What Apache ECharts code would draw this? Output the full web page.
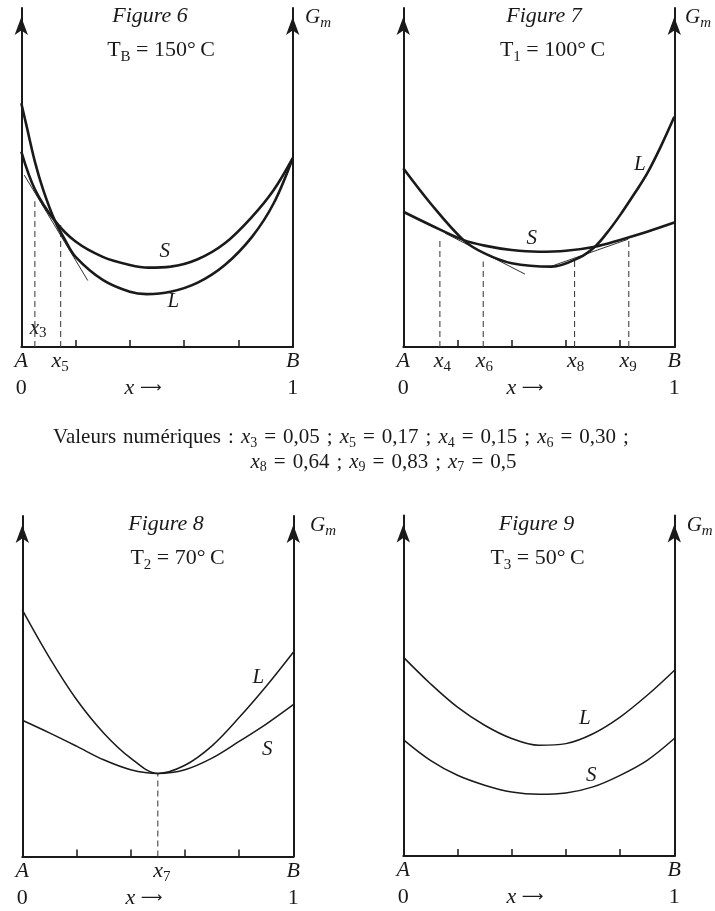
<!DOCTYPE html>
<html>
<head>
<meta charset="utf-8">
<script src="https://cdn.jsdelivr.net/npm/echarts@6.0.0/dist/echarts.min.js"></script>
<style>
html, body { margin: 0; padding: 0; background: #fff; }
#chart { width: 715px; height: 911px; }
</style>
</head>
<body>
<div id="chart"></div>
<script>
var SERIF = '"Liberation Serif", "Times New Roman", serif';
var INK = '#1a1a1a';

// ---- values (x in 0..1, G in arbitrary units 0..100 = arrow tip)

// Figure 6, TB = 150 C
var fig6LX = [0, 0.02, 0.05, 0.081, 0.124, 0.161, 0.2, 0.3, 0.4, 0.462, 0.55, 0.65, 0.75, 0.85, 0.93, 1];
var fig6L  = [71.9, 65.0, 54.7, 46.3, 37.2, 31.6, 26.6, 19.8, 16.3, 15.6, 16.3, 19.0, 24.2, 32.5, 42.4, 55.7];
var fig6SX = [0, 0.05, 0.124, 0.2, 0.3, 0.4, 0.468, 0.55, 0.65, 0.75, 0.85, 0.93, 1];
var fig6S  = [57.6, 46.5, 37.2, 31.1, 26.6, 24.2, 23.4, 23.7, 25.9, 30.6, 38.4, 46.3, 55.7];
var fig6Tangent = [[0.011, 50.7], [0.245, 19.6]];
var fig6Dash = [0.05, 0.145];
var fig6DashTop = [43, 36];

// Figure 7, T1 = 100 C
var fig7LX = [0, 0.1, 0.221, 0.3, 0.4, 0.547, 0.65, 0.707, 0.75, 0.8, 0.855, 0.9, 0.95, 1];
var fig7L  = [52.7, 42.4, 31.6, 27.6, 24.7, 23.7, 26.4, 29.6, 33.5, 38.9, 45.5, 51.2, 59.1, 67.9];
var fig7SX = [0, 0.1, 0.221, 0.3, 0.4, 0.5, 0.6, 0.707, 0.8, 0.9, 1];
var fig7S  = [39.9, 36.0, 31.6, 29.9, 28.6, 28.1, 28.4, 29.6, 31.6, 34.0, 36.7];
var fig7Tangent1 = [[0.154, 33.6], [0.449, 21.5]];
var fig7Tangent2 = [[0.535, 23.5], [0.830, 31.8]];
var fig7Dash = [0.135, 0.295, 0.632, 0.832];
var fig7DashTop = [31.6, 25.2, 26.6, 31.6];

// Figure 8, T2 = 70 C
var fig8X = [0, 0.1, 0.2, 0.3, 0.4, 0.5, 0.6, 0.7, 0.8, 0.9, 1];
var fig8L = [72.4, 58.4, 46.1, 36.3, 28.9, 24.4, 26.8, 32.5, 40.8, 50.0, 60.0];
var fig8S = [40.0, 36.3, 32.4, 28.4, 25.5, 24.4, 25.5, 28.9, 33.8, 38.9, 44.6];
var fig8Dash = [0.5];
var fig8DashTop = [24.4];

// Figure 9, T3 = 50 C
var fig9X = [0, 0.1, 0.2, 0.3, 0.4, 0.5, 0.6, 0.7, 0.8, 0.9, 1];
var fig9L = [58.4, 50.6, 43.7, 38.4, 34.5, 32.5, 33.0, 35.9, 40.8, 47.2, 54.5];
var fig9S = [34.2, 28.1, 23.7, 20.8, 18.8, 18.1, 18.5, 20.3, 23.7, 28.1, 34.5];

// numeric values quoted in the text
var valueIdx = ['3', '5', '4', '6', '8', '9', '7'];
var valueNum = [0.05, 0.17, 0.15, 0.30, 0.64, 0.83, 0.5];

function pair(xs, ys) {
    var out = [];
    for (var i = 0; i < xs.length; i++) out.push([xs[i], ys[i]]);
    return out;
}

function richSet(size, sub, lh) {
    var base = { fontFamily: SERIF, fontWeight: 'normal', color: INK, textBorderWidth: 0, opacity: 1 };
    return {
        i: Object.assign({ fontStyle: 'italic', fontSize: size, lineHeight: lh }, base),
        n: Object.assign({ fontSize: size, lineHeight: lh }, base),
        s: Object.assign({ fontSize: sub, lineHeight: sub, verticalAlign: 'bottom' }, base),
        si: Object.assign({ fontStyle: 'italic', fontSize: sub, lineHeight: sub, verticalAlign: 'bottom' }, base),
        ar: { fontFamily: '"DejaVu Sans", sans-serif', fontSize: 15, lineHeight: lh, color: INK }
    };
}

var labRich = richSet(22, 15, 27);

var panels = [
    {
        grid: { left: 21.3, top: 8, width: 271.4, height: 339 },
        curves: [[fig6LX, fig6L], [fig6SX, fig6S]], width: 2.6,
        tangents: [fig6Tangent],
        dash: fig6Dash, dashTop: fig6DashTop,
        xlabVals: [0, 0.143, 1], xlabTexts: ['{i|A}\n{n|0}', '{i|x}{s|5}', '{i|B}\n{n|1}'],
        marks: [[0.529, 28.2, '{i|S}'], [0.56, 13.4, '{i|L}'], [0.062, 5.6, '{i|x}{s|3}']]
    },
    {
        grid: { left: 403.3, top: 8, width: 271, height: 339 },
        curves: [[fig7LX, fig7L], [fig7SX, fig7S]], width: 2.6,
        tangents: [fig7Tangent1, fig7Tangent2],
        dash: fig7Dash, dashTop: fig7DashTop,
        xlabVals: [0, 0.144, 0.299, 0.636, 0.83, 1],
        xlabTexts: ['{i|A}\n{n|0}', '{i|x}{s|4}', '{i|x}{s|6}', '{i|x}{s|8}', '{i|x}{s|9}', '{i|B}\n{n|1}'],
        marks: [[0.474, 32.1, '{i|S}'], [0.873, 53.7, '{i|L}']]
    },
    {
        grid: { left: 22.3, top: 516, width: 271, height: 340.5 },
        curves: [[fig8X, fig8L], [fig8X, fig8S]], width: 1.5,
        tangents: [],
        dash: fig8Dash, dashTop: fig8DashTop,
        xlabVals: [0, 0.515, 1], xlabTexts: ['{i|A}\n{n|0}', '{i|x}{s|7}', '{i|B}\n{n|1}'],
        marks: [[0.871, 52.5, '{i|L}'], [0.904, 31.4, '{i|S}']]
    },
    {
        grid: { left: 403.3, top: 515.5, width: 271, height: 340.5 },
        curves: [[fig9X, fig9L], [fig9X, fig9S]], width: 1.5,
        tangents: [],
        dash: [], dashTop: [],
        xlabVals: [0, 1], xlabTexts: ['{i|A}\n{n|0}', '{i|B}\n{n|1}'],
        marks: [[0.670, 40.3, '{i|L}'], [0.694, 23.7, '{i|S}']]
    }
];

var option = {
    animation: false,
    backgroundColor: '#fff',
    title: [],
    grid: [],
    xAxis: [],
    yAxis: [],
    series: []
};

panels.forEach(function (p, k) {
    var g = p.grid;
    g.outerBoundsMode = 'none';
    g.containLabel = false;
    option.grid.push(g);

    var labVals = p.xlabVals, labTexts = p.xlabTexts;
    option.xAxis.push({
        gridIndex: k, type: 'value', min: 0, max: 1,
        axisLine: { show: true, lineStyle: { color: INK, width: 2 } },
        axisTick: { show: true, inside: true, length: 7, customValues: [0.2, 0.4, 0.6, 0.8],
                    lineStyle: { color: INK, width: 1.5 } },
        axisLabel: {
            show: true, margin: 1, color: INK, customValues: labVals, rich: labRich,
            formatter: function (v) {
                for (var i = 0; i < labVals.length; i++) {
                    if (Math.abs(labVals[i] - v) < 1e-6) return labTexts[i];
                }
                return '';
            }
        },
        splitLine: { show: false },
        name: '{i|x}{n| }{ar|\u27f6}', nameLocation: 'middle', nameGap: 28, nameMoveOverlap: false,
        nameTextStyle: { color: INK, rich: labRich, padding: [0, 28, 0, 0] }
    });

    ['left', 'right'].forEach(function (pos) {
        option.yAxis.push({
            gridIndex: k, type: 'value', min: 0, max: 100, position: pos,
            axisLine: { show: true, lineStyle: { color: INK, width: 2 },
                        symbol: ['none', 'arrow'], symbolSize: [10, 18], symbolOffset: [0, -9] },
            axisTick: { show: false }, axisLabel: { show: false }, splitLine: { show: false }
        });
    });

    p.curves.forEach(function (c) {
        option.series.push({
            type: 'line', xAxisIndex: k, yAxisIndex: 2 * k, data: pair(c[0], c[1]),
            smooth: 0.35, symbol: 'none', silent: true, z: 3,
            lineStyle: { color: INK, width: p.width }
        });
    });

    p.tangents.forEach(function (t) {
        option.series.push({
            type: 'line', xAxisIndex: k, yAxisIndex: 2 * k, data: t,
            symbol: 'none', silent: true, z: 2,
            lineStyle: { color: INK, width: 0.9 }
        });
    });

    p.dash.forEach(function (x, i) {
        option.series.push({
            type: 'line', xAxisIndex: k, yAxisIndex: 2 * k, data: [[x, 0], [x, p.dashTop[i]]],
            symbol: 'none', silent: true, z: 1,
            lineStyle: { color: '#444', width: 1.1, type: [6, 4] }
        });
    });

    option.series.push({
        type: 'scatter', xAxisIndex: k, yAxisIndex: 2 * k, symbolSize: 0, silent: true,
        itemStyle: { color: INK, opacity: 1 },
        data: p.marks.map(function (m) { return { value: [m[0], m[1]], name: m[2] }; }),
        label: {
            show: true, position: 'inside', color: INK, textBorderWidth: 0, opacity: 1,
            rich: richSet(21, 15, 26),
            formatter: function (d) { return d.name; }
        }
    });
});

// figure titles, temperatures and the G_m axis names
var figNames = ['Figure 6', 'Figure 7', 'Figure 8', 'Figure 9'];
var figCenters = [150, 544, 166, 536.5];
var tempSub = ['B', '1', '2', '3'];
var tempVal = ['150', '100', '70', '50'];
var tempCenters = [161, 552.5, 177.5, 537.5];
var rowTops = [0, 508];
var gmLeft = [305, 685, 310, 686.7];

var titleRich = richSet(22, 15, 28);
for (var k = 0; k < 4; k++) {
    var row = rowTops[k < 2 ? 0 : 1];
    option.title.push({
        text: '{i|' + figNames[k] + '}', left: figCenters[k], top: row + 2.6,
        textAlign: 'center', padding: 0, textStyle: { fontWeight: 'normal', rich: titleRich }
    });
    option.title.push({
        text: '{n|T}{s|' + tempSub[k] + '}{n| = ' + tempVal[k] + '\u00b0\u2009C}',
        left: tempCenters[k], top: row + 36.6,
        textAlign: 'center', padding: 0, textStyle: { fontWeight: 'normal', rich: titleRich }
    });
    option.title.push({
        text: '{i|G}{si|m}', left: gmLeft[k], top: row + 3,
        padding: 0, textStyle: { fontWeight: 'normal', rich: richSet(21, 15, 28) }
    });
}

// "Valeurs numériques" lines (French spacing, slightly wide)
var SP = ' \u200a';
function fmt(v) { return String(v).replace('.', ','); }
function valText(from, to, tail) {
    var parts = [];
    for (var i = from; i < to; i++) {
        var num = valueNum[i] === 0.3 ? '0,30' : fmt(valueNum[i]);
        parts.push('{i|x}{s|' + valueIdx[i] + '}{n|' + SP + '=' + SP + num + '}');
    }
    return parts.join('{n|' + SP + ';' + SP + '}') + tail;
}
var midRich = richSet(21, 14, 25);
option.title.push({
    text: '{n|Valeurs' + SP + 'numériques' + SP + ':' + SP + '}' + valText(0, 4, '{n|' + SP + ';}'),
    left: 341, top: 425, textAlign: 'center', padding: 0,
    textStyle: { fontWeight: 'normal', rich: midRich }
});
option.title.push({
    text: valText(4, 7, ''),
    left: 383.5, top: 449.5, textAlign: 'center', padding: 0,
    textStyle: { fontWeight: 'normal', rich: midRich }
});

var myChart = echarts.init(document.getElementById('chart'));
myChart.setOption(option);
</script>
</body>
</html>
